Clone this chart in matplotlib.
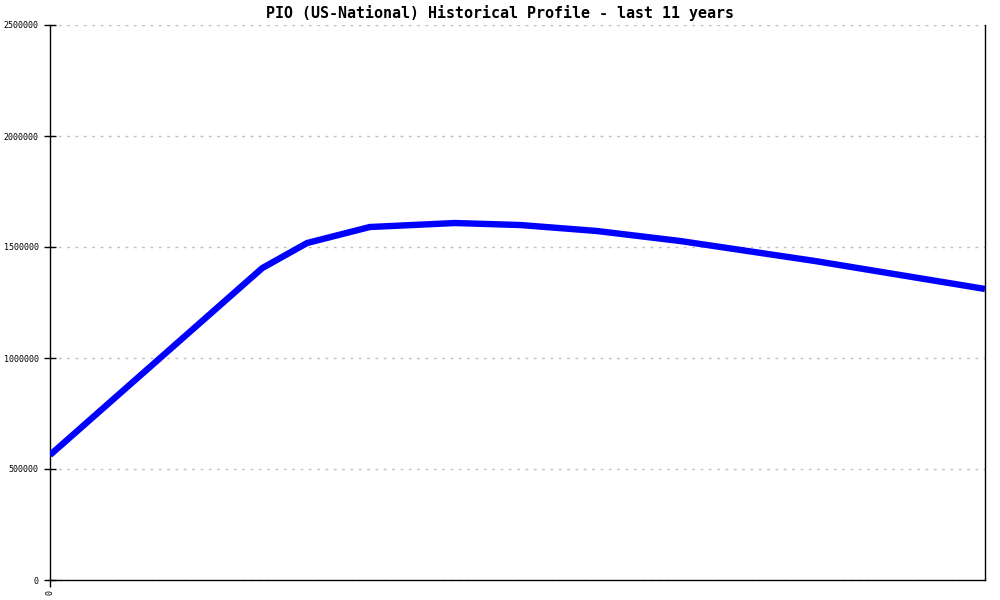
import matplotlib
matplotlib.use("Agg")
import matplotlib.pyplot as plt

title = "PIO (US-National) Historical Profile - last 11 years"
years = [0.0, 2.27, 2.75, 3.42, 4.33, 5.03, 5.85, 6.74, 8.18, 10.0]
values = [563000, 1405000, 1518000, 1590000, 1608000, 1599000, 1572000, 1527000, 1437000, 1311000]
y_ticks = [0, 500000, 1000000, 1500000, 2000000, 2500000]
x_ticks = [0]
x_tick_labels = ["0"]

fig = plt.figure(figsize=(10, 6), dpi=100)
ax = fig.add_axes([0.05, 1 - 580 / 600, 0.935, 555 / 600])

ax.plot(years, values, color="#0000ff", linewidth=4.6, solid_capstyle="butt", zorder=3)

ax.set_xlim(0, 10)
ax.set_ylim(0, 2500000)
ax.set_yticks(y_ticks)
ax.set_yticklabels([str(v) for v in y_ticks], fontsize=6, family="DejaVu Sans Mono")
ax.set_xticks(x_ticks)
ax.set_xticklabels(x_tick_labels, fontsize=6, family="DejaVu Sans Mono", rotation=90)

ax.yaxis.grid(True, linestyle=(0, (2, 4)), color="#c0c0c0", linewidth=1)
ax.set_axisbelow(True)
ax.spines["top"].set_visible(False)
for s in ["left", "bottom", "right"]:
    ax.spines[s].set_color("black")
    ax.spines[s].set_linewidth(1)
ax.tick_params(axis="y", direction="inout", length=8, width=1, pad=4)
ax.tick_params(axis="x", direction="out", length=5, width=1, pad=2)

fig.text(0.5, 1 - 13 / 600, title, ha="center", va="center", fontsize=10.8,
         fontweight="bold", family="DejaVu Sans Mono")

fig.savefig("out.png", dpi=100, facecolor="white")
